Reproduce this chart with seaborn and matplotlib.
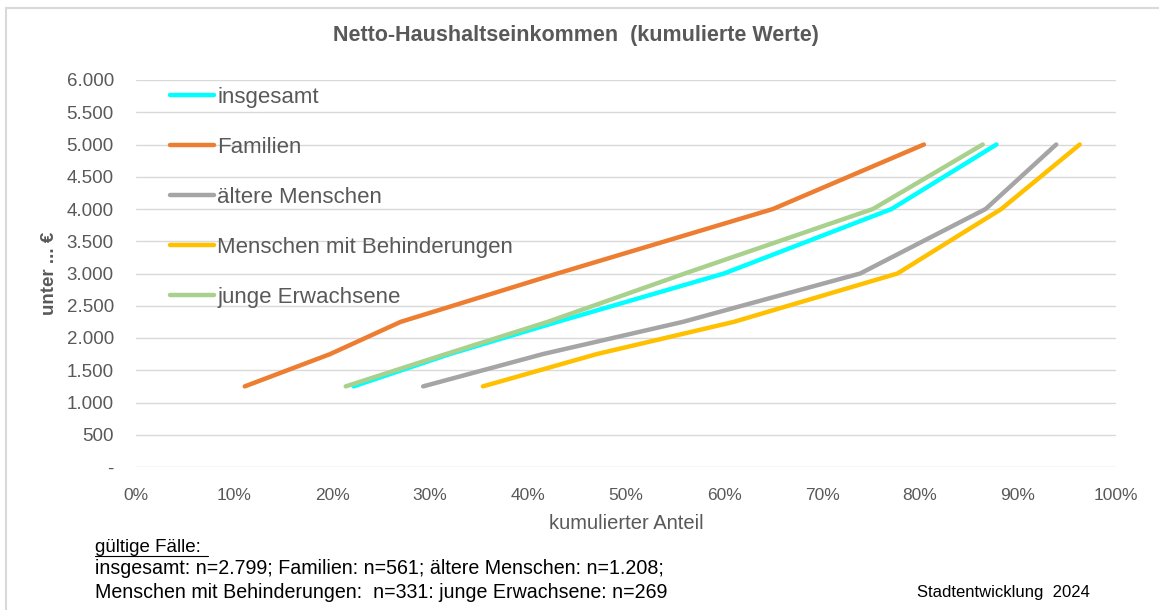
import numpy as np
import pandas as pd
import matplotlib
matplotlib.use("Agg")
import matplotlib.pyplot as plt
from matplotlib.lines import Line2D
import seaborn as sns

# income brackets ("unter ... €")
income = [1250, 1750, 2250, 3000, 4000, 5000]

# cumulative share in percent
insgesamt = [22.2, 32.0, 43.0, 60.0, 77.1, 87.8]
familien = [11.1, 19.8, 27.0, 43.0, 65.0, 80.4]
aeltere = [29.3, 41.5, 55.8, 73.9, 86.7, 93.9]
behinderung = [35.4, 47.0, 61.0, 77.7, 88.3, 96.3]
junge = [21.4, 31.6, 42.0, 56.0, 75.2, 86.4]

groups = ['insgesamt', 'Familien', 'ältere Menschen',
          'Menschen mit Behinderungen', 'junge Erwachsene']
colors = ['#00FFFF', '#ED7D31', '#A5A5A5', '#FFC000', '#A9D18E']

y_ticks = [0, 500, 1000, 1500, 2000, 2500, 3000, 3500, 4000, 4500, 5000, 5500, 6000]
y_labels = ['-', '500', '1.000', '1.500', '2.000', '2.500', '3.000',
            '3.500', '4.000', '4.500', '5.000', '5.500', '6.000']
x_ticks = [0, 10, 20, 30, 40, 50, 60, 70, 80, 90, 100]

# long table for seaborn
df = pd.concat([
    pd.DataFrame({'anteil': vals, 'einkommen': income, 'gruppe': g})
    for g, vals in zip(groups, [insgesamt, familien, aeltere, behinderung, junge])
])

sns.set_style('white')
plt.rcParams['font.family'] = ['Liberation Sans', 'DejaVu Sans']

grey = '#595959'
fig = plt.figure(figsize=(11.59, 6.10), dpi=100)
ax = fig.add_axes([136 / 1159, 1 - 467 / 610, 980 / 1159, 387 / 610])

sns.lineplot(data=df, x='anteil', y='einkommen', hue='gruppe',
             hue_order=groups, palette=colors, sort=False,
             linewidth=3.2, ax=ax, legend=False)
for line in ax.get_lines():
    line.set_solid_capstyle('round')
    line.set_solid_joinstyle('round')

ax.set_xlim(0, 100)
ax.set_ylim(0, 6000)
ax.set_yticks(y_ticks)
ax.set_yticklabels(y_labels, fontsize=13.5, color=grey)
ax.set_xticks(x_ticks)
ax.set_xticklabels([f'{t}%' for t in x_ticks], fontsize=12.5, color=grey)
ax.tick_params(axis='both', length=0)
ax.tick_params(axis='y', pad=16)
ax.tick_params(axis='x', pad=15)
ax.grid(axis='y', color='#D9D9D9', linewidth=1)
ax.set_axisbelow(True)
for s in ax.spines.values():
    s.set_visible(False)

ax.set_xlabel('kumulierter Anteil', fontsize=14.5, color=grey, labelpad=8)
ax.set_ylabel('unter ... €', fontsize=13.5, color=grey, fontweight='bold', labelpad=6)

# legend
handles = [Line2D([0], [0], color=c, lw=3.2, solid_capstyle='round') for c in colors]
leg = fig.legend(handles, groups, loc='upper left',
                 bbox_to_anchor=(170 / 1159, 1 - 87 / 610),
                 frameon=False, fontsize=16, handlelength=2.0,
                 handletextpad=0.12, labelspacing=1.3,
                 borderpad=0, borderaxespad=0)
for t in leg.get_texts():
    t.set_color(grey)

fig.text(576 / 1159, 1 - 35 / 610, 'Netto-Haushaltseinkommen  (kumulierte Werte)',
         ha='center', va='center', fontsize=15.5, fontweight='bold', color=grey)

fig.text(95 / 1159, 1 - 547 / 610, 'gültige Fälle:', ha='left', va='center',
         fontsize=13.5, color='black')
fig.add_artist(Line2D([95 / 1159, 208 / 1159], [1 - 556 / 610, 1 - 556 / 610],
                      color='black', lw=0.8))
fig.text(95 / 1159, 1 - 569 / 610,
         'insgesamt: n=2.799; Familien: n=561; ältere Menschen: n=1.208;',
         ha='left', va='center', fontsize=14.1, color='black')
fig.text(95 / 1159, 1 - 592 / 610,
         'Menschen mit Behinderungen:  n=331: junge Erwachsene: n=269',
         ha='left', va='center', fontsize=14.1, color='black')
fig.text(1090 / 1159, 1 - 592 / 610, 'Stadtentwicklung  2024',
         ha='right', va='center', fontsize=12, color='black')

# outer chart border (top and left only visible)
fig.add_artist(Line2D([6 / 1159, 1], [1 - 7.5 / 610, 1 - 7.5 / 610], color='#D9D9D9', lw=1.5))
fig.add_artist(Line2D([6 / 1159, 6 / 1159], [0, 1 - 7.5 / 610], color='#D9D9D9', lw=1.5))

fig.savefig('out.png', dpi=100)
